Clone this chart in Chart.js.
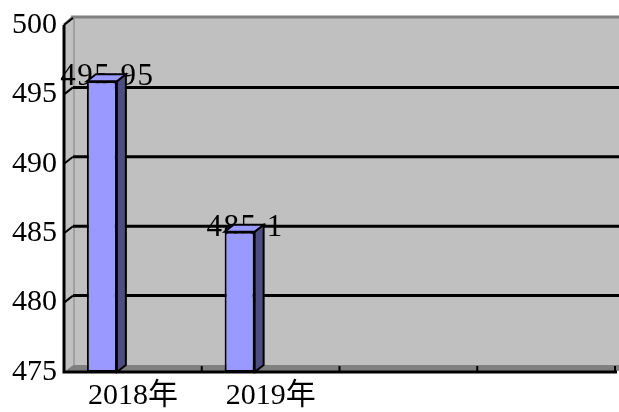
<!DOCTYPE html>
<html>
<head>
<meta charset="utf-8">
<script src="https://cdn.jsdelivr.net/npm/chart.js@4.4.0/dist/chart.umd.min.js"></script>
<style>
  html, body { margin: 0; padding: 0; background: #ffffff; }
  #wrap { width: 619px; height: 412px; }
</style>
</head>
<body>
<div id="wrap"><canvas id="c" width="619" height="412"></canvas></div>
<script>
const categories = ['2018年', '2019年', '', ''];
const values = [495.95, 485.1, null, null];
const yTicks = [475, 480, 485, 490, 495, 500];

const FONT = "'Liberation Serif', 'Noto Sans CJK SC', serif";
const DX = 9, DY = -7;

const threeD = {
  id: 'threeD',
  beforeDatasetsDraw(chart) {
    const ctx = chart.ctx;
    const xs = chart.scales.x, ys = chart.scales.y;
    const L = xs.left, R = xs.right, T = ys.top, B = ys.bottom;
    ctx.save();
    // back wall
    ctx.fillStyle = '#C0C0C0';
    ctx.fillRect(L + DX, T + DY, R - L + 20, B - T);
    // top border of wall
    ctx.strokeStyle = '#808080';
    ctx.lineWidth = 3;
    ctx.beginPath();
    ctx.moveTo(L + DX - 2, T + DY - 1); ctx.lineTo(chart.width, T + DY - 1);
    ctx.stroke();
    ctx.beginPath();
    ctx.moveTo(L, T); ctx.lineTo(L + DX, T + DY - 1);
    ctx.stroke();
    // left side wall
    ctx.fillStyle = '#C0C0C0';
    ctx.beginPath();
    ctx.moveTo(L, T); ctx.lineTo(L + DX, T + DY); ctx.lineTo(L + DX, B + DY); ctx.lineTo(L, B);
    ctx.closePath(); ctx.fill();
    ctx.strokeStyle = '#A0A0A0'; ctx.lineWidth = 2;
    ctx.beginPath();
    ctx.moveTo(L + DX + 1, T + DY); ctx.lineTo(L + DX + 1, B + DY);
    ctx.stroke();
    // floor
    ctx.fillStyle = '#808080';
    ctx.beginPath();
    ctx.moveTo(L, B); ctx.lineTo(L + DX, B + DY); ctx.lineTo(R + DX + 10, B + DY); ctx.lineTo(R, B);
    ctx.closePath(); ctx.fill();
    // gridlines
    yTicks.forEach(v => {
      const y = ys.getPixelForValue(v);
      ctx.strokeStyle = '#000000';
      if (v !== 475 && v !== 500) {
        ctx.lineWidth = 3;
        ctx.beginPath();
        ctx.moveTo(L + DX, y + DY); ctx.lineTo(chart.width, y + DY);
        ctx.stroke();
      }
      if (v !== 475) {
        ctx.lineWidth = 2;
        ctx.beginPath();
        ctx.moveTo(L, y); ctx.lineTo(L + DX, y + DY);
        ctx.stroke();
      }
    });
    // data labels (drawn behind bars)
    ctx.fillStyle = '#000000';
    ctx.font = '31px ' + FONT;
    ctx.textAlign = 'center';
    ctx.textBaseline = 'middle';
    try { ctx.letterSpacing = '1.5px'; } catch (e) {}
    const meta = chart.getDatasetMeta(0);
    meta.data.forEach((bar, i) => {
      if (values[i] == null) return;
      ctx.fillText(String(values[i]), bar.x + DX / 2 + 1, bar.y - 4);
    });
    ctx.restore();
  },
  afterDatasetsDraw(chart) {
    const ctx = chart.ctx;
    const xs = chart.scales.x, ys = chart.scales.y;
    const L = xs.left, R = xs.right, T = ys.top, B = ys.bottom;
    ctx.save();
    const meta = chart.getDatasetMeta(0);
    ctx.lineWidth = 2;
    ctx.strokeStyle = '#000000';
    ctx.lineJoin = 'miter';
    meta.data.forEach((bar, i) => {
      if (values[i] == null) return;
      const w = bar.width;
      const l = bar.x - w / 2, r = bar.x + w / 2, t = bar.y, b = Math.min(bar.base, B);
      // side
      ctx.fillStyle = '#4D4D80';
      ctx.beginPath();
      ctx.moveTo(r, t); ctx.lineTo(r + DX, t + DY); ctx.lineTo(r + DX, b + DY); ctx.lineTo(r, b);
      ctx.closePath(); ctx.fill(); ctx.stroke();
      // top
      ctx.fillStyle = '#9999FF';
      ctx.beginPath();
      ctx.moveTo(l, t); ctx.lineTo(l + DX, t + DY); ctx.lineTo(r + DX, t + DY); ctx.lineTo(r, t);
      ctx.closePath(); ctx.fill(); ctx.stroke();
    });
    // axes
    ctx.strokeStyle = '#000000';
    ctx.lineWidth = 3;
    ctx.beginPath();
    ctx.moveTo(L, T); ctx.lineTo(L, B); ctx.lineTo(R + 2, B);
    ctx.stroke();
    ctx.lineWidth = 2;
    // x ticks at category boundaries
    const n = categories.length;
    for (let i = 1; i <= n; i++) {
      const x = L + i * (R - L) / n;
      ctx.beginPath();
      ctx.moveTo(x, B); ctx.lineTo(x, B - 6);
      ctx.stroke();
    }
    ctx.restore();
  }
};

new Chart(document.getElementById('c'), {
  type: 'bar',
  data: {
    labels: categories,
    datasets: [
      {
        data: values,
        base: 475,
        backgroundColor: '#9999FF',
        borderColor: '#000000',
        borderWidth: 2,
        borderSkipped: false,
        categoryPercentage: 0.9,
        barPercentage: 0.484
      },
      {
        data: [null, null, null, null],
        base: 475,
        categoryPercentage: 0.9,
        barPercentage: 0.484
      }
    ]
  },
  options: {
    responsive: false,
    animation: false,
    layout: { padding: { top: 24, right: 4, left: 0, bottom: 0 } },
    plugins: { legend: { display: false }, tooltip: { enabled: false } },
    scales: {
      x: {
        grid: { display: false, drawTicks: false },
        border: { display: false },
        ticks: { color: '#000000', font: { family: FONT, size: 30 }, padding: 6, maxRotation: 0, autoSkip: false },
        afterFit(scale) { scale.height = 40; }
      },
      y: {
        min: 475, max: 500,
        grid: { display: false, drawTicks: false },
        border: { display: false },
        afterBuildTicks(scale) { scale.ticks = yTicks.map(v => ({ value: v })); },
        ticks: { color: '#000000', font: { family: FONT, size: 30 }, padding: 7 },
        afterFit(scale) { scale.width = 64; }
      }
    }
  },
  plugins: [threeD]
});
</script>
</body>
</html>
